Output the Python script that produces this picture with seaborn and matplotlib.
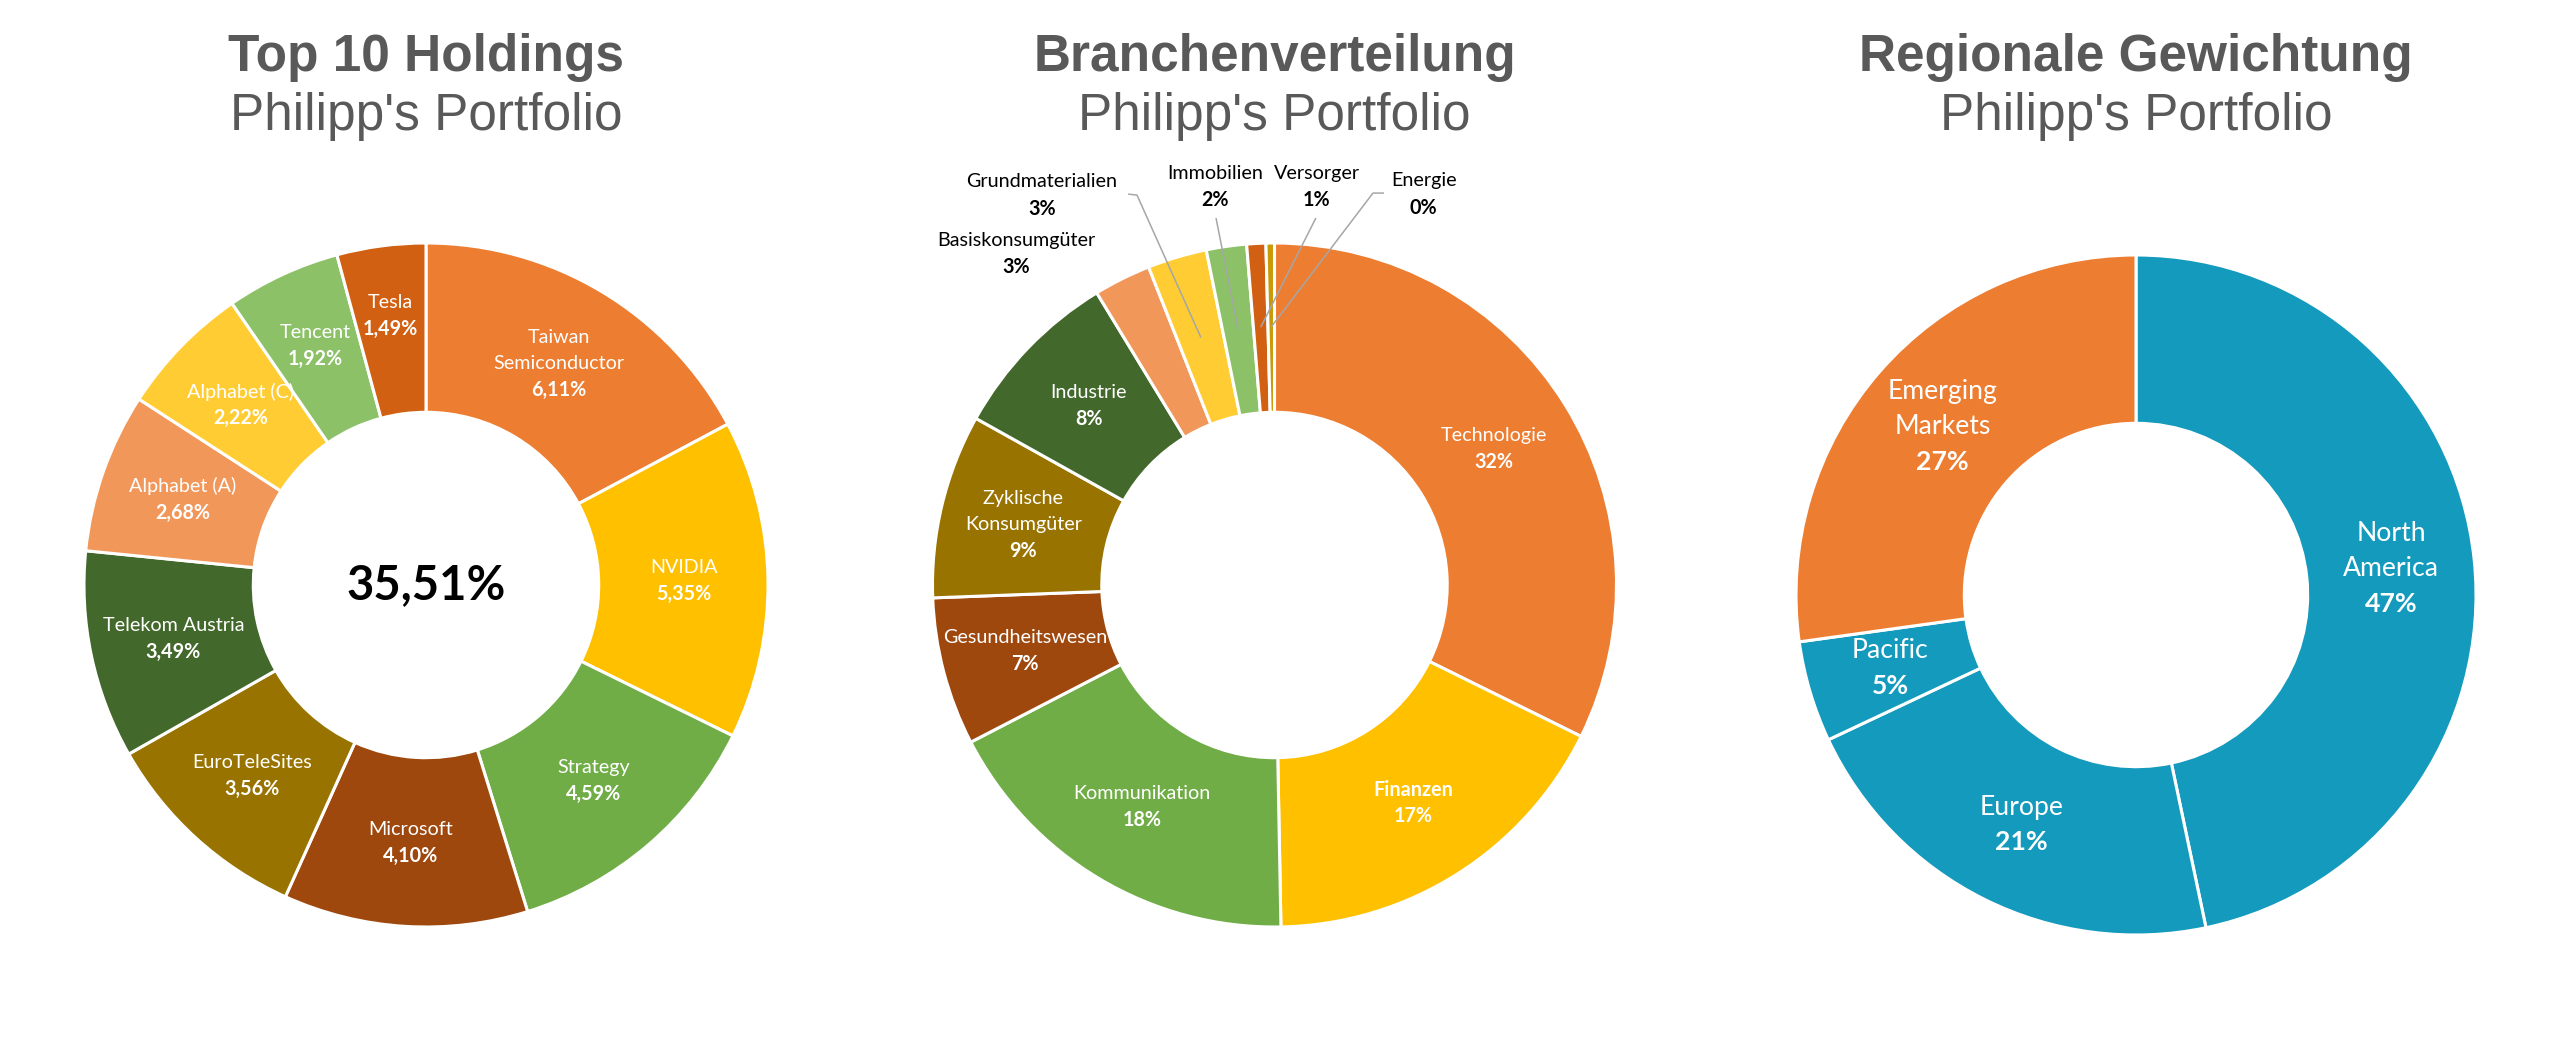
import matplotlib
matplotlib.use("Agg")
import matplotlib.pyplot as plt
import seaborn as sns
import numpy as np

# ---------------- data ----------------
holdings = ["Taiwan\nSemiconductor", "NVIDIA", "Strategy", "Microsoft", "EuroTeleSites",
            "Telekom Austria", "Alphabet (A)", "Alphabet (C)", "Tencent", "Tesla"]
holding_weights = [6.11, 5.35, 4.59, 4.10, 3.56, 3.49, 2.68, 2.22, 1.92, 1.49]

sectors = ["Technologie", "Finanzen", "Kommunikation", "Gesundheitswesen",
           "Zyklische\nKonsumgüter", "Industrie", "Basiskonsumgüter", "Grundmaterialien",
           "Immobilien", "Versorger", "Energie"]
sector_weights = [32.3, 17.4, 17.7, 7.0, 8.7, 8.2, 2.7, 2.8, 1.9, 0.9, 0.4]

regions = ["North\nAmerica", "Europe", "Pacific", "Emerging\nMarkets"]
region_weights = [46.7, 21.3, 4.8, 27.2]

titles = ["Top 10 Holdings", "Branchenverteilung", "Regionale Gewichtung"]
subtitle = "Philipp's Portfolio"

# ---------------- style ----------------
sns.set_theme(style="white")
plt.rcParams["font.family"] = ["Lato", "DejaVu Sans"]

TITLE_FONT, TITLE_SIZE = ["Liberation Sans", "DejaVu Sans"], 37
LABEL_FONT = ["Lato", "DejaVu Sans"]
TITLE_COLOR = "#595959"
LBL = 14.2

pal_main = sns.color_palette(["#ED7D31", "#FFC000", "#70AD47", "#9E480E", "#997300",
                              "#43682B", "#F1975A", "#FFCD33", "#8CC168", "#D26012", "#C99A06"])
region_colors = sns.color_palette(["#149ABC", "#149ABC", "#149ABC", "#ED7D31"])

W, H = 2560, 1046
fig = plt.figure(figsize=(W / 100, H / 100), dpi=100)
fig.patch.set_facecolor("white")

centers = [(426, 585), (1274.5, 585), (2136, 595)]
R = 342


def make_ax(cx, cy, r):
    return fig.add_axes([(cx - r) / W, (H - cy - r) / H, 2 * r / W, 2 * r / H])


def donut(ax, values, colors):
    wedges, _ = ax.pie(values, colors=colors, startangle=90, counterclock=False, radius=1,
                       wedgeprops=dict(width=0.495, edgecolor="white", linewidth=2.2))
    ax.set_xlim(-1, 1)
    ax.set_ylim(-1, 1)
    ax.set_aspect("equal")
    ax.autoscale(False)
    ax.axis("off")
    return wedges


def mid_point(w, r):
    ang = np.deg2rad((w.theta1 + w.theta2) / 2)
    return r * np.cos(ang), r * np.sin(ang)


def block(ax, x, y, lines, weights, size, spacing, color):
    n = len(lines)
    for i, (t, wt) in enumerate(zip(lines, weights)):
        off = ((n - 1) / 2 - i) * spacing
        ax.annotate(t, xy=(x, y), xytext=(0, off), textcoords="offset points",
                    ha="center", va="center", fontsize=size, fontweight=wt,
                    color=color, family=LABEL_FONT, annotation_clip=False)


# ---------------- titles ----------------
for (cx, cy), t in zip(centers, titles):
    fig.text(cx / W, 1 - 71 / H, t, ha="center", va="baseline", fontsize=TITLE_SIZE,
             fontweight="bold", color=TITLE_COLOR, family=TITLE_FONT)
    fig.text(cx / W, 1 - 130 / H, subtitle, ha="center", va="baseline", fontsize=TITLE_SIZE,
             fontweight="normal", color=TITLE_COLOR, family=TITLE_FONT)

# ---------------- chart 1: holdings ----------------
ax1 = make_ax(*centers[0], R)
w1 = donut(ax1, holding_weights, pal_main[:len(holding_weights)])
r_adjust1 = {"Tesla": 0.795, "Tencent": 0.77}
for w, name, v in zip(w1, holdings, holding_weights):
    x, y = mid_point(w, r_adjust1.get(name, 0.755))
    pct = f"{v:.2f}".replace(".", ",") + "%"
    lines = name.split("\n") + [pct]
    block(ax1, x, y, lines, ["normal"] * (len(lines) - 1) + ["bold"], LBL, 19.1, "white")
total = f"{sum(holding_weights):.2f}".replace(".", ",") + "%"
ax1.text(0, 0, total, ha="center", va="center", fontsize=34, fontweight="bold",
         color="black", family=LABEL_FONT)

# ---------------- chart 2: sectors ----------------
ax2 = make_ax(*centers[1], R)
w2 = donut(ax2, sector_weights, pal_main[:len(sector_weights)])
outer_pos = {"Basiskonsumgüter": (-0.755, 0.969), "Grundmaterialien": (-0.680, 1.140),
             "Immobilien": (-0.173, 1.164), "Versorger": (0.123, 1.164),
             "Energie": (0.436, 1.143)}
leaders = {"Grundmaterialien": [(-0.428, 1.143), (-0.402, 1.140)],
           "Immobilien": [(-0.171, 1.073)],
           "Versorger": [(0.121, 1.073)],
           "Energie": [(0.320, 1.146), (0.288, 1.146)]}
bold_names = {"Finanzen"}
for w, name, v in zip(w2, sectors, sector_weights):
    pct = f"{v:.0f}%"
    lines = name.split("\n") + [pct]
    name_wt = "bold" if name in bold_names else "normal"
    weights = [name_wt] * (len(lines) - 1) + ["bold"]
    if name in outer_pos:
        x, y = outer_pos[name]
        block(ax2, x, y, lines, weights, LBL, 19.4, "black")
        if name in leaders:
            ex, ey = mid_point(w, 0.755)
            pts = leaders[name] + [(ex, ey)]
            ax2.plot([p[0] for p in pts], [p[1] for p in pts], color="#A6A6A6", lw=1.1,
                     clip_on=False, zorder=5, solid_capstyle="butt")
    else:
        x, y = mid_point(w, 0.755)
        block(ax2, x, y, lines, weights, LBL, 19.1, "white")

# ---------------- chart 3: regions ----------------
ax3 = make_ax(*centers[2], 340)
w3 = donut(ax3, region_weights, region_colors)
for w, name, v in zip(w3, regions, region_weights):
    x, y = mid_point(w, 0.755)
    lines = name.split("\n") + [f"{v:.0f}%"]
    block(ax3, x, y, lines, ["normal"] * (len(lines) - 1) + ["bold"], 19.2, 25.4, "white")

fig.savefig("out.png", dpi=100, facecolor="white")
